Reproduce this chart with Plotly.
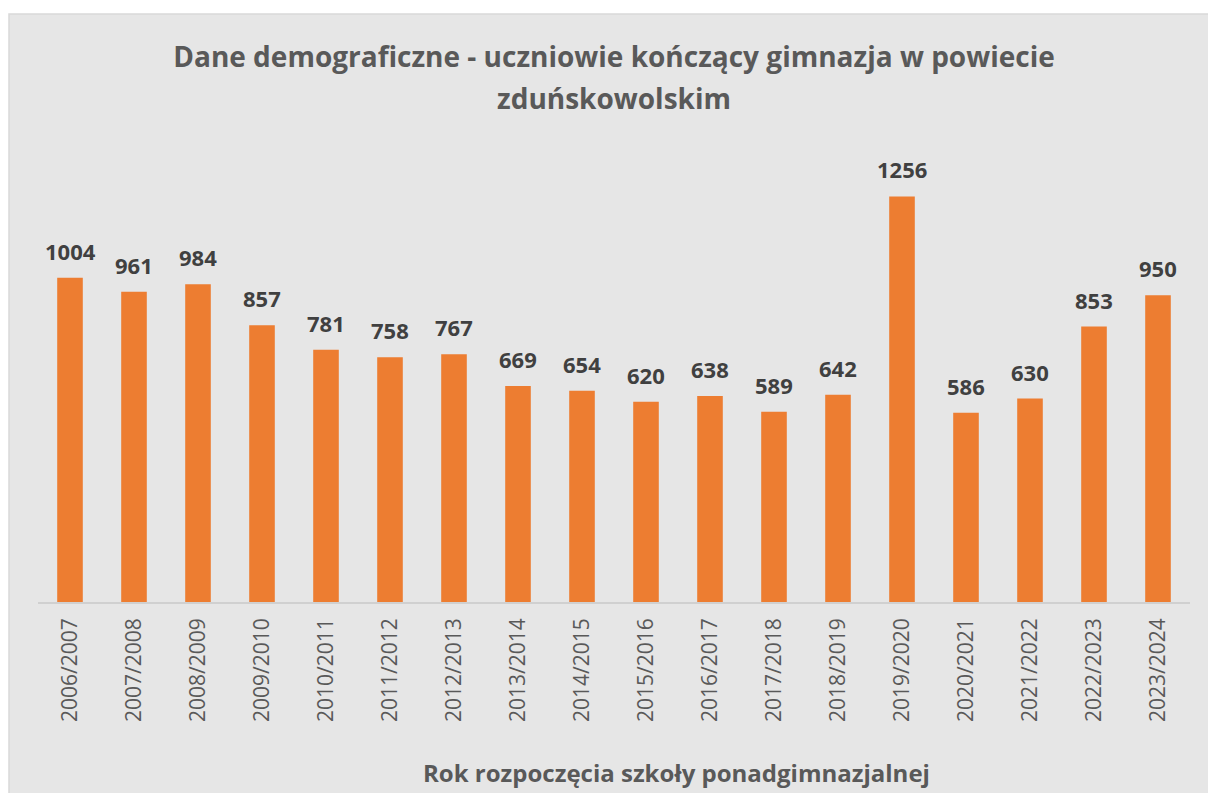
import plotly.graph_objects as go

categories = ["2006/2007", "2007/2008", "2008/2009", "2009/2010", "2010/2011", "2011/2012",
              "2012/2013", "2013/2014", "2014/2015", "2015/2016", "2016/2017", "2017/2018",
              "2018/2019", "2019/2020", "2020/2021", "2021/2022", "2022/2023", "2023/2024"]
values = [1004, 961, 984, 857, 781, 758, 767, 669, 654, 620, 638, 589, 642, 1256, 586, 630, 853, 950]

title_line1 = "Dane demograficzne - uczniowie kończący gimnazja w powiecie"
title_line2 = "zduńskowolskim"
xaxis_title = "Rok rozpoczęcia szkoły ponadgimnazjalnej"

W, H = 1208, 793
ml, mr, mt, mb = 38, 18, 150, 191
pw, ph = W - ml - mr, H - mt - mb

def px_x(p):
    return (p - ml) / pw

def px_y(p):
    return (H - mb - p) / ph

FONT = "Open Sans"
TITLE_COLOR = "#595959"

fig = go.Figure()
fig.add_trace(go.Bar(
    x=categories, y=values,
    marker=dict(color="#ed7d31", line=dict(width=0)),
    hoverinfo="x+y",
))

annotations = []
for c, v in zip(categories, values):
    annotations.append(dict(
        x=c, y=v, xref="x", yref="y", text=str(v), showarrow=False,
        yanchor="middle", yshift=27,
        font=dict(family=FONT, size=22, color="#404040", weight="bold"),
    ))
annotations.append(dict(
    x=0.5, y=px_y(98), xref="paper", yref="paper", text=title_line2,
    showarrow=False, xanchor="center", yanchor="middle",
    font=dict(family=FONT, size=28, color=TITLE_COLOR, weight="bold"),
))
annotations.append(dict(
    x=px_x(676), y=px_y(773), xref="paper", yref="paper", text=xaxis_title,
    showarrow=False, xanchor="center", yanchor="middle",
    font=dict(family=FONT, size=24, color=TITLE_COLOR, weight="bold"),
))

fig.update_layout(
    width=W, height=H,
    margin=dict(l=ml, r=mr, t=mt, b=mb, pad=0),
    paper_bgcolor="white",
    plot_bgcolor="rgba(0,0,0,0)",
    bargap=0.6,
    showlegend=False,
    title=dict(
        text=title_line1,
        x=0.5, xref="paper", xanchor="center",
        y=1 - 57 / H, yref="container", yanchor="middle",
        font=dict(family=FONT, size=28, color=TITLE_COLOR, weight="bold"),
    ),
    xaxis=dict(
        tickangle=-90,
        tickfont=dict(family=FONT, size=21, color="#595959"),
        showline=True, linecolor="#d0d0d0", linewidth=1.5,
        ticks="", showgrid=False, zeroline=False,
        ticklabelstandoff=6,
    ),
    yaxis=dict(range=[0, 1400], visible=False, showgrid=False, zeroline=False),
    annotations=annotations,
    shapes=[dict(
        type="rect", xref="paper", yref="paper", layer="below",
        x0=px_x(9), x1=px_x(W + 10), y0=px_y(H + 10), y1=px_y(14),
        fillcolor="#e6e6e6", line=dict(color="#d9d9d9", width=1.5),
    )],
)

fig.write_html(
    "out.html",
    config={"displayModeBar": False},
    post_script="document.body.style.margin='0';document.body.style.overflow='hidden';",
)
